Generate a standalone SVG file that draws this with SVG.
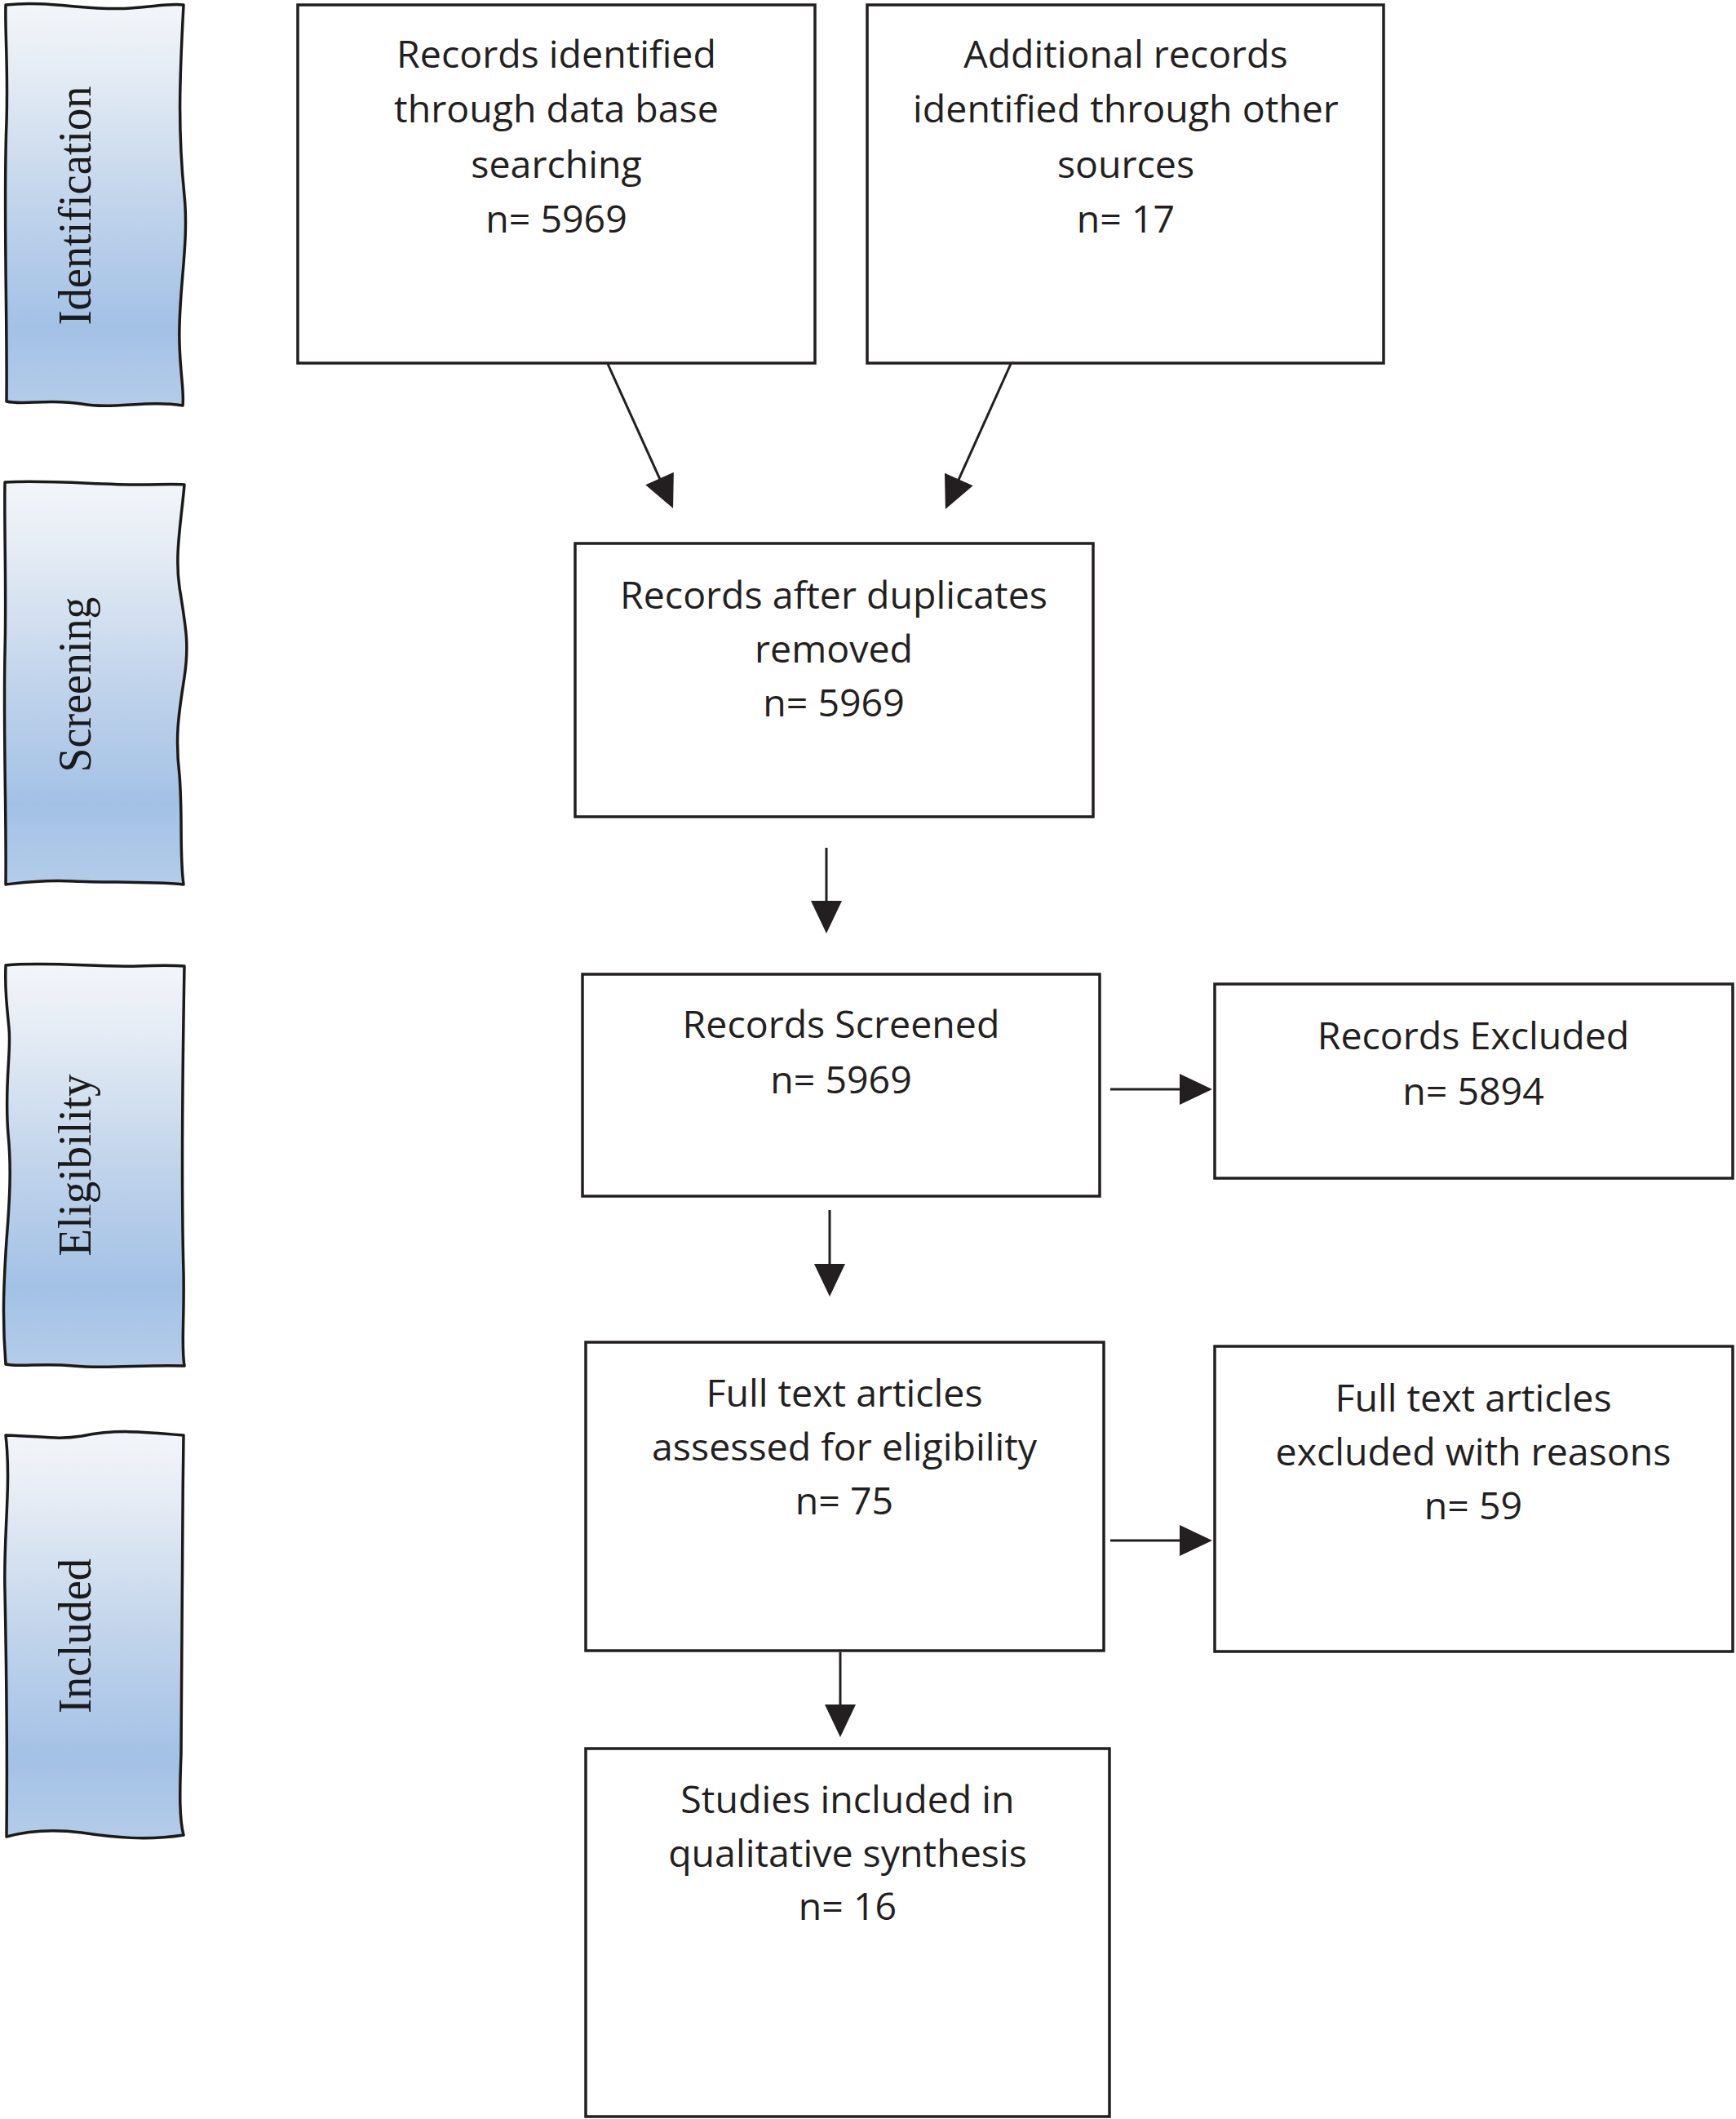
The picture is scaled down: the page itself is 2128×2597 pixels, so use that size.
<svg xmlns="http://www.w3.org/2000/svg" width="2128" height="2597" viewBox="0 0 2128 2597">
<defs>
<linearGradient id="band" x1="0" y1="0" x2="0" y2="1">
<stop offset="0" stop-color="#f3f5f9"/>
<stop offset="0.15" stop-color="#e7edf5"/>
<stop offset="0.5" stop-color="#c1d4eb"/>
<stop offset="0.8" stop-color="#a3c1e6"/>
<stop offset="1" stop-color="#b4cce9"/>
</linearGradient>
<marker id="ah" markerUnits="userSpaceOnUse" markerWidth="42" markerHeight="40" viewBox="0 0 42 40" refX="22" refY="20" orient="auto">
<path d="M2,1 L42,20 L2,39 Z" fill="#231f20"/>
</marker>
<style>
.band{fill:url(#band);stroke:#1a1a1a;stroke-width:3.5;stroke-linejoin:round}
.lab{font-family:"Liberation Serif","Times New Roman",serif;font-size:56px;fill:#1a1a1a;text-anchor:middle}
.box{fill:#ffffff;stroke:#231f20;stroke-width:3.5}
.t{font-family:"Open Sans","Liberation Sans",sans-serif;font-weight:400;font-size:46.5px;fill:#231f20;text-anchor:middle}
.c{fill:none;stroke:#231f20;stroke-width:3;marker-end:url(#ah)}
</style>
</defs>
<rect width="2128" height="2597" fill="#ffffff"/>

<g id="band-identification">
<path class="band" d="M7,6 C60,0 110,14 160,10 C190,8 208,4 225,6 C220,100 218,160 226,240 C232,300 218,360 220,420 C221,460 226,480 224,497 C180,490 140,502 100,495 C60,488 30,497 8,492 C9,380 4,250 8,150 C10,80 6,40 7,6 Z"/>
<text class="lab" transform="translate(111,252) rotate(-90)" textLength="293" lengthAdjust="spacingAndGlyphs">Identification</text>
</g>

<g id="band-screening">
<path class="band" d="M6,591 C60,588 120,594 170,594 C195,594 212,593 226,594 C222,640 214,680 220,720 C228,770 232,790 226,830 C220,870 214,900 220,950 C224,1000 220,1050 225,1084 C180,1080 130,1082 90,1080 C50,1078 25,1082 7,1084 C8,1000 4,900 6,800 C8,720 5,650 6,591 Z"/>
<text class="lab" transform="translate(111,839) rotate(-90)" textLength="215" lengthAdjust="spacingAndGlyphs">Screening</text>
</g>

<g id="band-eligibility">
<path class="band" d="M7,1183 C60,1178 120,1186 170,1184 C195,1183 212,1183 226,1184 C224,1300 222,1450 225,1560 C226,1620 222,1650 226,1674 C180,1672 130,1678 90,1674 C50,1670 25,1676 7,1672 C3,1620 4,1580 8,1520 C12,1470 14,1430 10,1390 C5,1330 14,1290 11,1260 C8,1230 6,1210 7,1183 Z"/>
<text class="lab" transform="translate(111,1428) rotate(-90)" textLength="223" lengthAdjust="spacingAndGlyphs">Eligibility</text>
</g>

<g id="band-included">
<path class="band" d="M7,1759 C50,1760 70,1765 100,1760 C140,1752 170,1754 225,1759 C223,1900 223,2050 222,2150 C220,2200 220,2230 225,2249 C180,2256 140,2252 100,2246 C60,2241 30,2245 8,2251 C9,2150 8,2050 6,1950 C4,1880 14,1820 7,1759 Z"/>
<text class="lab" transform="translate(111,2005) rotate(-90)" textLength="190" lengthAdjust="spacingAndGlyphs">Included</text>
</g>

<g id="node-records-identified">
<rect class="box" x="365" y="6" width="634" height="439"/>
<text class="t" x="682" y="83">Records identified</text>
<text class="t" x="682" y="150">through data base</text>
<text class="t" x="682" y="218">searching</text>
<text class="t" x="682" y="285">n= 5969</text>
</g>

<g id="node-additional-records">
<rect class="box" x="1063" y="6" width="633" height="439"/>
<text class="t" x="1380" y="83">Additional records</text>
<text class="t" x="1380" y="150">identified through other</text>
<text class="t" x="1380" y="218">sources</text>
<text class="t" x="1380" y="285">n= 17</text>
</g>

<g id="node-after-duplicates">
<rect class="box" x="705" y="666" width="635" height="335"/>
<text class="t" x="1022" y="746">Records after duplicates</text>
<text class="t" x="1022" y="812">removed</text>
<text class="t" x="1022" y="878">n= 5969</text>
</g>

<g id="node-screened">
<rect class="box" x="714" y="1194" width="634" height="272"/>
<text class="t" x="1031" y="1272">Records Screened</text>
<text class="t" x="1031" y="1340">n= 5969</text>
</g>

<g id="node-excluded">
<rect class="box" x="1489" y="1206" width="635" height="238"/>
<text class="t" x="1806" y="1286">Records Excluded</text>
<text class="t" x="1806" y="1354">n= 5894</text>
</g>

<g id="node-full-text-assessed">
<rect class="box" x="718" y="1645" width="635" height="378"/>
<text class="t" x="1035" y="1724">Full text articles</text>
<text class="t" x="1035" y="1790">assessed for eligibility</text>
<text class="t" x="1035" y="1856">n= 75</text>
</g>

<g id="node-full-text-excluded">
<rect class="box" x="1489" y="1650" width="635" height="374"/>
<text class="t" x="1806" y="1730">Full text articles</text>
<text class="t" x="1806" y="1796">excluded with reasons</text>
<text class="t" x="1806" y="1862">n= 59</text>
</g>

<g id="node-studies-included">
<rect class="box" x="718" y="2143" width="642" height="451"/>
<text class="t" x="1039" y="2222">Studies included in</text>
<text class="t" x="1039" y="2288">qualitative synthesis</text>
<text class="t" x="1039" y="2353">n= 16</text>
</g>

<g id="connectors">
<line class="c" x1="745" y1="446" x2="816.8" y2="604.7"/>
<line class="c" x1="1239" y1="446" x2="1167.1" y2="605.7"/>
<line class="c" x1="1013" y1="1039" x2="1013" y2="1124"/>
<line class="c" x1="1017" y1="1483" x2="1017" y2="1569"/>
<line class="c" x1="1361" y1="1335" x2="1466" y2="1335"/>
<line class="c" x1="1030" y1="2025" x2="1030" y2="2109"/>
<line class="c" x1="1361" y1="1888" x2="1466" y2="1888"/>
</g>
</svg>
